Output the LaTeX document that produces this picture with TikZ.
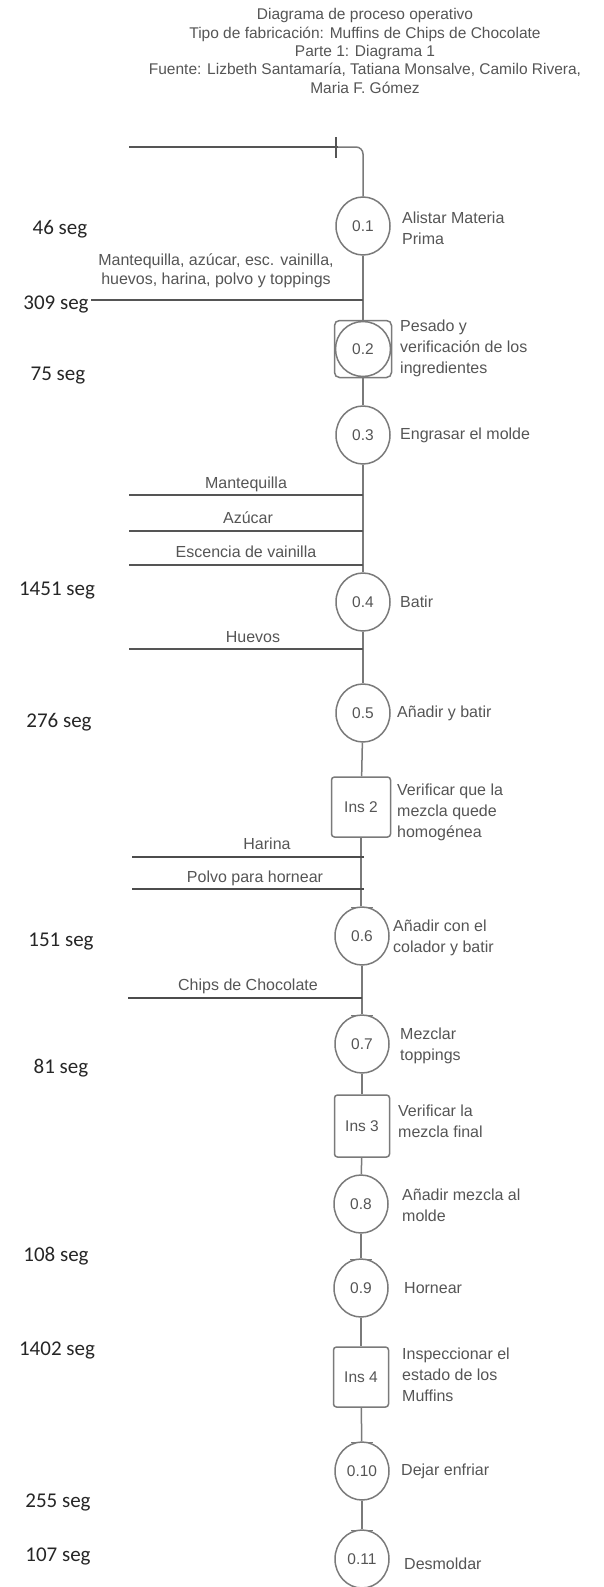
\documentclass[tikz,border=0pt]{standalone}
\usepackage{fontspec}
\setmainfont{Liberation Sans}
\newfontfamily\calib{Carlito}
\usetikzlibrary{shapes.geometric}
\definecolor{ln}{HTML}{7A7A7A}
\definecolor{inln}{HTML}{555555}
\definecolor{tx}{HTML}{555555}
\begin{document}
\begin{tikzpicture}[x=1pt,y=-1pt,
  op/.style={ellipse, draw=ln, line width=1.5pt, minimum width=54pt, minimum height=58pt, inner sep=0pt, font=\fontsize{15.5}{18}\selectfont, text=tx},
  insp/.style={rectangle, rounded corners=3pt, draw=ln, line width=1.5pt, minimum width=57pt, minimum height=60pt, inner sep=0pt, font=\fontsize{15.5}{18}\selectfont, text=tx},
  desc/.style={anchor=west, align=left, inner sep=0pt, font=\fontsize{16}{21}\selectfont, text=tx},
  seglab/.style={inner sep=0pt, font=\calib\fontsize{21}{24}\selectfont, text=black!85},
  inlab/.style={inner sep=0pt, align=center, font=\fontsize{16}{19}\selectfont, text=tx},
  flow/.style={draw=ln, line width=1.5pt},
  feed/.style={draw=inln, line width=2pt},
  thickfeed/.style={draw=black!70, line width=2.6pt},
  tickmark/.style={draw=ln, line width=1.5pt}
]
\useasboundingbox (0,0) rectangle (603,1587);

% title
\node[inner sep=0pt, align=center, text=tx, font=\fontsize{15.5}{18.3}\selectfont] (title) at (365,51)
 {Diagrama de proceso operativo\\
  Tipo de fabricación: Muffins de Chips de Chocolate\\
  Parte 1: Diagrama 1\\
  Fuente: Lizbeth Santamaría, Tatiana Monsalve, Camilo Rivera,\\
  Maria F. Gómez};

% process nodes
\node[op] (n01) at (363,226) {0.1};
\node[insp, rounded corners=5pt, minimum width=57pt, minimum height=57pt] (n02) at (363,349) {};
\draw[ln, line width=1.5pt] (n02.center) circle (27.5);
\node[text=tx, font=\fontsize{15.5}{18}\selectfont] (n02t) at (n02.center) {0.2};
\node[op] (n03) at (363,435) {0.3};
\node[op] (n04) at (363,602) {0.4};
\node[op] (n05) at (363,713) {0.5};
\node[insp, minimum width=59pt] (ins2) at (361,807) {Ins 2};
\node[op] (n06) at (362,936) {0.6};
\node[op] (n07) at (362,1044) {0.7};
\node[insp, minimum width=55pt, minimum height=62pt] (ins3) at (362,1126) {Ins 3};
\node[op] (n08) at (361,1204) {0.8};
\node[op] (n09) at (361,1288) {0.9};
\node[insp, minimum width=55pt] (ins4) at (361,1377) {Ins 4};
\node[op] (n10) at (362,1471) {0.10};
\node[op] (n11) at (362,1559) {0.11};

% descriptions
\node[desc] (d01) at (402,228) {Alistar Materia\\Prima};
\node[desc] (d02) at (400,348) {Pesado y\\verificación de los\\ingredientes};
\node[desc] (d03) at (400,435) {Engrasar el molde};
\node[desc] (d04) at (400,602) {Batir};
\node[desc] (d05) at (397,713) {Añadir y batir};
\node[desc] (di2) at (397,812) {Verificar que la\\mezcla quede\\homogénea};
\node[desc] (d06) at (393,938) {Añadir con el\\colador y batir};
\node[desc] (d07) at (400,1046) {Mezclar\\toppings};
\node[desc] (di3) at (398,1121) {Verificar la\\mezcla final};
\node[desc] (d08) at (402,1205) {Añadir mezcla al\\molde};
\node[desc] (d09) at (404,1288) {Hornear};
\node[desc] (di4) at (402,1375) {Inspeccionar el\\estado de los\\Muffins};
\node[desc] (d10) at (401,1471) {Dejar enfriar};
\node[desc] (d11) at (404,1564) {Desmoldar};

% times
\node[seglab] (s01) at (60,229) {46 seg};
\node[seglab] (s02) at (56,304) {309 seg};
\node[seglab] (s03) at (58,376) {75 seg};
\node[seglab] (s04) at (57,591) {1451 seg};
\node[seglab] (s05) at (59,722) {276 seg};
\node[seglab] (s06) at (61,942) {151 seg};
\node[seglab] (s07) at (61,1068) {81 seg};
\node[seglab] (s08) at (56,1256) {108 seg};
\node[seglab] (s09) at (57,1350) {1402 seg};
\node[seglab] (s10) at (58,1502) {255 seg};
\node[seglab] (s11) at (58,1556) {107 seg};

% start line
\coordinate (start) at (129,147);
\coordinate (corner) at (363,147);
\draw[flow, draw=inln] (start) -- (338,147);
\draw[flow, rounded corners=7pt] (338,147) -- (corner) -- (n01.north);
\coordinate (tk0) at (336,137);
\draw[tickmark, draw=inln] (tk0) -- ++(0,21);

% spine
\draw[flow] (n01) -- (n02);
\draw[flow] (n02) -- (n03);
\draw[flow] (n03) -- (n04);
\draw[flow] (n04) -- (n05);
\draw[flow] (n05) -- (ins2);
\draw[flow] (ins2.south) -- (ins2.south |- n06.north);
\draw[flow] (n06) -- (n07);
\draw[flow] (n07) -- (ins3);
\draw[flow] (ins3) -- (n08);
\draw[flow] (n08) -- (n09);
\draw[flow] (n09) -- (ins4);
\draw[flow] (ins4) -- (n10);
\draw[flow] (n10) -- (n11);

% ticks at node entries
\foreach \nd in {ins2,n06,n07,ins3,n09,ins4,n10,n11}
  \draw[tickmark] ([xshift=-11pt,yshift=-1pt]\nd.north) -- ([xshift=11pt,yshift=-1pt]\nd.north);

% feed lines
\coordinate (f1) at (91,300);
\draw[feed] (f1) -- (f1 -| n01);
\node[inlab] (l1) at (216,271) {Mantequilla, azúcar, esc. vainilla,\\huevos, harina, polvo y toppings};

\coordinate (f2) at (129,495);
\draw[feed] (f2) -- (f2 -| n03);
\node[inlab] (l2) at (246,484) {Mantequilla};
\coordinate (f3) at (129,531);
\draw[feed] (f3) -- (f3 -| n03);
\node[inlab] (l3) at (248,518) {Azúcar};
\coordinate (f4) at (129,565);
\draw[feed] (f4) -- (f4 -| n03);
\node[inlab] (l4) at (246,552) {Escencia de vainilla};
\coordinate (f5) at (129,649);
\draw[feed] (f5) -- (f5 -| n04);
\node[inlab] (l5) at (253,637) {Huevos};

\coordinate (f6) at (132,857);
\draw[thickfeed] (f6) -- (364,857);
\node[inlab] (l6) at (267,844) {Harina};
\coordinate (f7) at (132,889);
\draw[thickfeed] (f7) -- (364,889);
\node[inlab] (l7) at (255,878) {Polvo para hornear};
\coordinate (f8) at (128,998);
\draw[thickfeed] (f8) -- (f8 -| n07);
\node[inlab] (l8) at (248,986) {Chips de Chocolate};
\end{tikzpicture}
\end{document}
